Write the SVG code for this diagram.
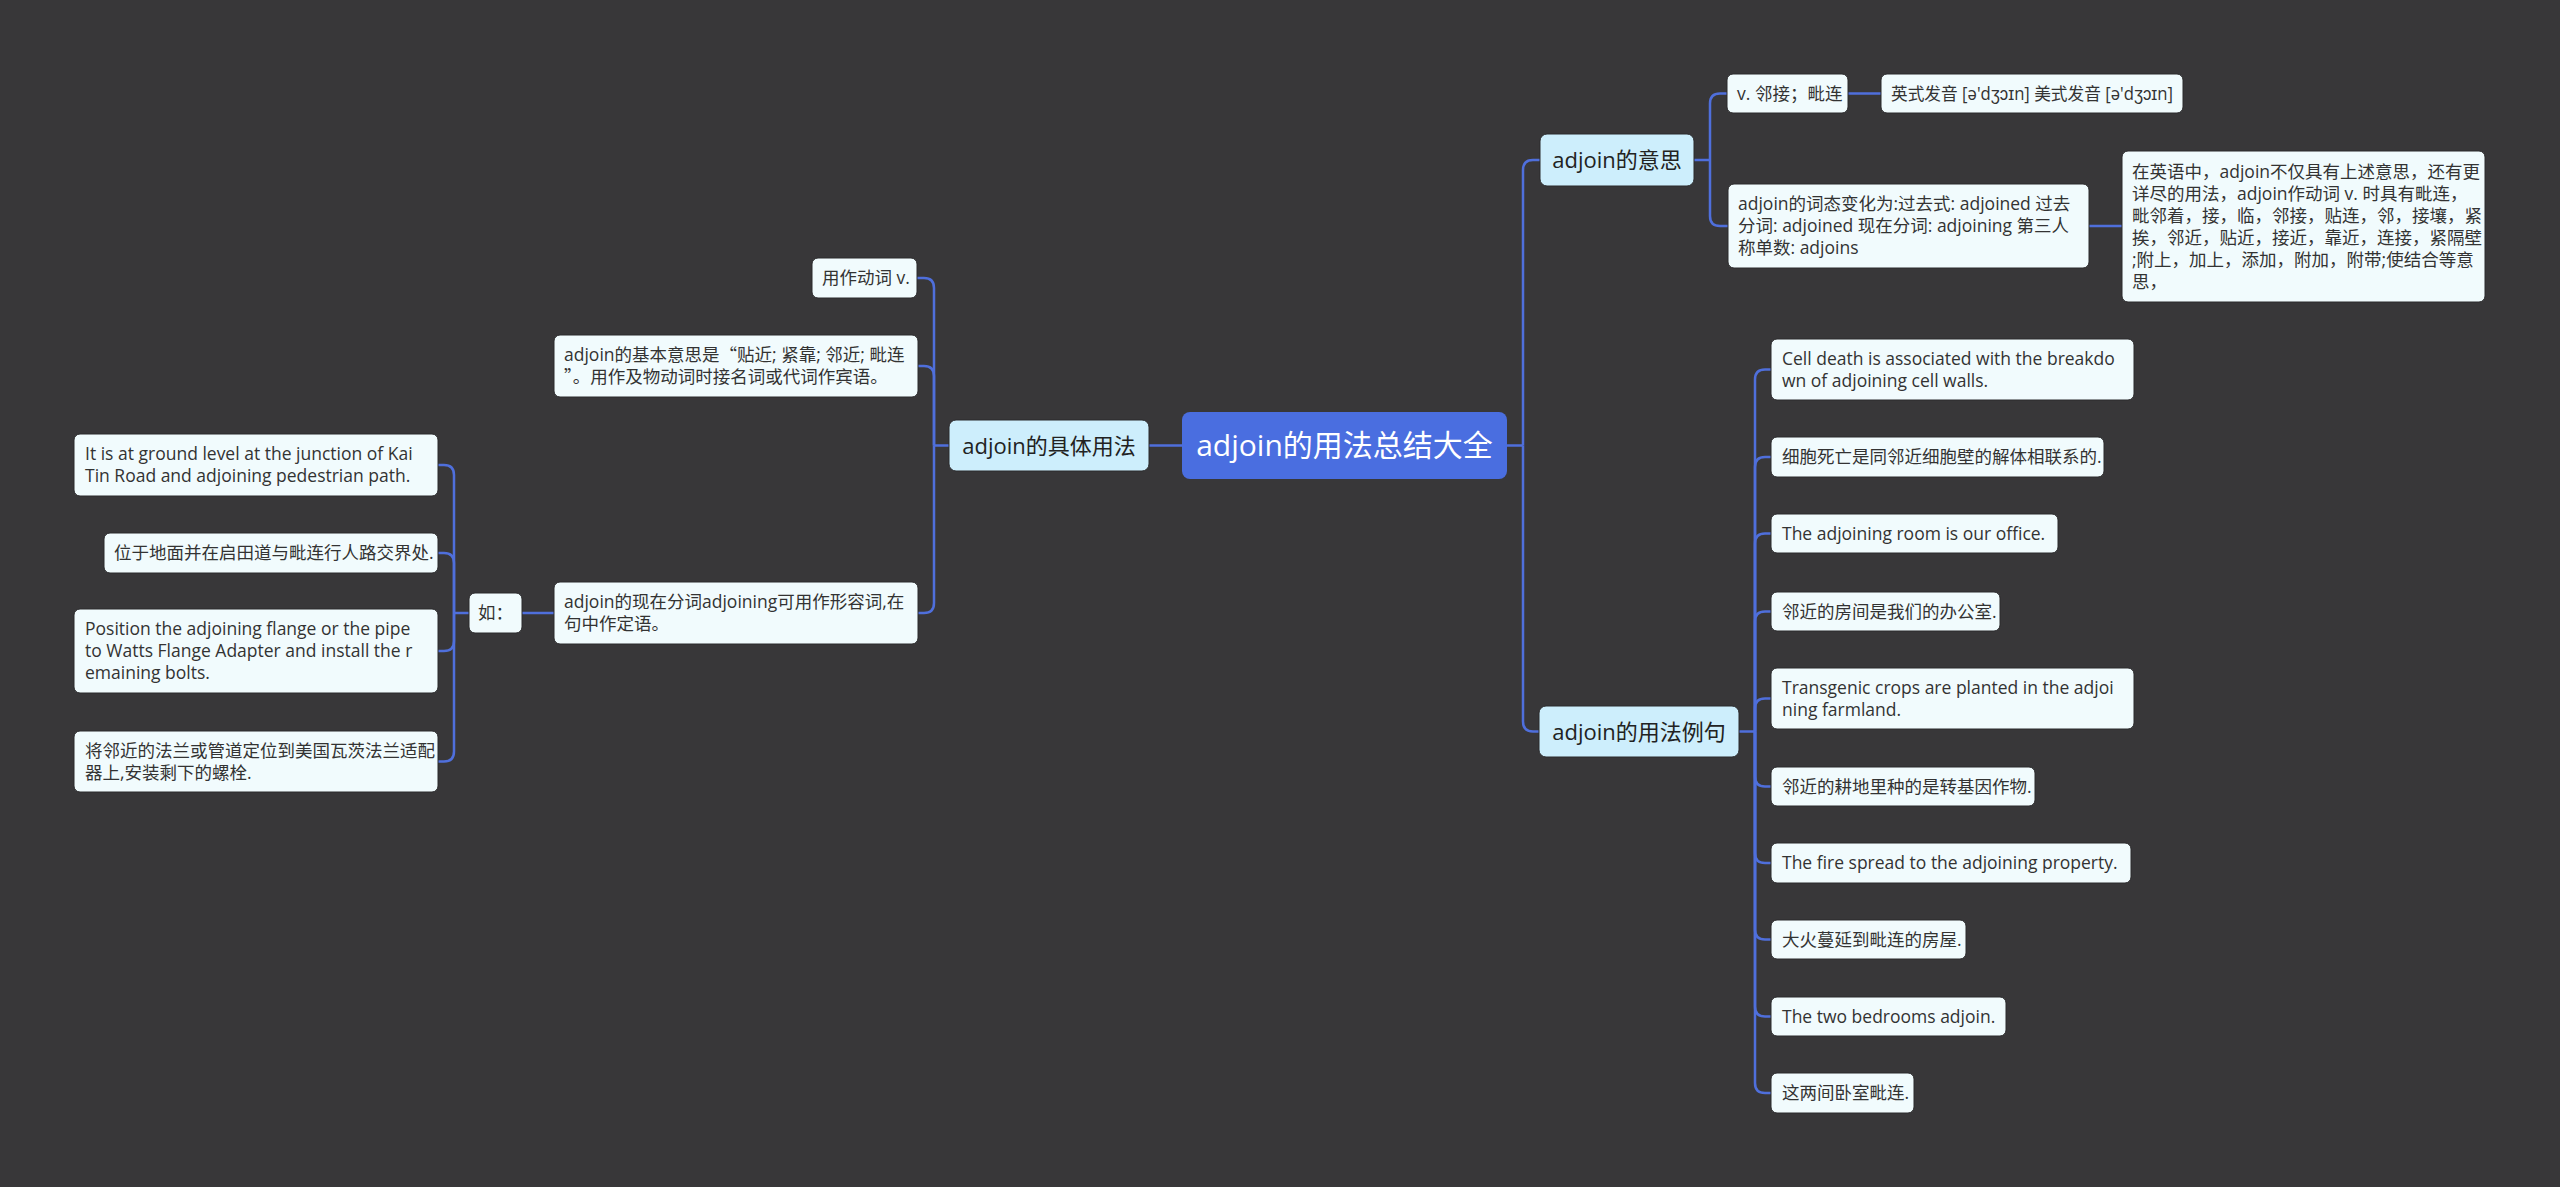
<svg xmlns="http://www.w3.org/2000/svg" width="2560" height="1187" viewBox="0 0 2560 1187">
<style>
text{font-family:"Open Sans","Noto Sans CJK SC",sans-serif;}
.cjk{font-family:"Noto Sans CJK SC",sans-serif;}
.leaf rect{fill:#f1fbfd;stroke:#2b2a2c;stroke-width:1;}
.leaf text{fill:#333333;font-size:17.5px;}
.l1 rect{fill:#cdeefc;stroke:#2b2a2c;stroke-width:1;}
.l1 text{fill:#222222;font-size:22px;text-anchor:middle;}
.root rect{fill:#4a6ee0;}
.root text{fill:#ffffff;font-size:30px;text-anchor:middle;}
#connectors path{fill:none;stroke:#4f6fdc;stroke-width:2.5;}
</style>
<rect x="0" y="0" width="2560" height="1187" fill="#383739"/>
<g id="connectors">
<path d="M1507,445.5 H1523"/>
<path d="M1523,445.5 V170 Q1523,160 1533,160 H1540"/>
<path d="M1523,445.5 V721.5 Q1523,731.5 1533,731.5 H1539"/>
<path d="M1182,445.5 H1149"/>
<path d="M949,445.5 H934"/>
<path d="M934,445.5 V288 Q934,278 924,278 H917"/>
<path d="M934,445.5 V376 Q934,366 924,366 H917"/>
<path d="M934,445.5 V603 Q934,613 924,613 H917"/>
<path d="M554,613 H522"/>
<path d="M469,613 H454"/>
<path d="M454,613 V475 Q454,465 444,465 H438"/>
<path d="M454,613 V563 Q454,553 444,553 H438"/>
<path d="M454,613 V641 Q454,651 444,651 H438"/>
<path d="M454,613 V751.5 Q454,761.5 444,761.5 H438"/>
<path d="M1694,160 H1710"/>
<path d="M1710,160 V103.5 Q1710,93.5 1720,93.5 H1727"/>
<path d="M1710,160 V216 Q1710,226 1720,226 H1728"/>
<path d="M1848,93.5 H1881"/>
<path d="M2089,226 H2122"/>
<path d="M1739,731.5 H1755"/>
<path d="M1755,731.5 V379.5 Q1755,369.5 1765,369.5 H1771"/>
<path d="M1755,731.5 V467 Q1755,457 1765,457 H1771"/>
<path d="M1755,731.5 V543.5 Q1755,533.5 1765,533.5 H1771"/>
<path d="M1755,731.5 V621.5 Q1755,611.5 1765,611.5 H1771"/>
<path d="M1755,731.5 V708.5 Q1755,698.5 1765,698.5 H1771"/>
<path d="M1755,731.5 V776.5 Q1755,786.5 1765,786.5 H1771"/>
<path d="M1755,731.5 V853 Q1755,863 1765,863 H1771"/>
<path d="M1755,731.5 V929.5 Q1755,939.5 1765,939.5 H1771"/>
<path d="M1755,731.5 V1006.5 Q1755,1016.5 1765,1016.5 H1771"/>
<path d="M1755,731.5 V1083 Q1755,1093 1765,1093 H1771"/>
</g>
<g id="root" class="root">
<rect x="1182" y="412" width="325" height="67" rx="8"/>
<text x="1344.5" y="456">adjoin的用法总结大全</text>
</g>
<g id="n_usage" class="l1">
<rect x="949" y="420" width="200" height="51" rx="7"/>
<text x="1049" y="453.5">adjoin的具体用法</text>
</g>
<g id="n_meaning" class="l1">
<rect x="1540" y="134" width="154" height="52" rx="7"/>
<text x="1617" y="168">adjoin的意思</text>
</g>
<g id="n_examples" class="l1">
<rect x="1539" y="706" width="200" height="51" rx="7"/>
<text x="1639" y="739.5">adjoin的用法例句</text>
</g>
<g id="n_verb" class="leaf">
<rect x="812" y="258" width="105" height="40" rx="6"/>
<text x="822" y="284">用作动词 v.</text>
</g>
<g id="n_basic" class="leaf">
<rect x="554" y="335" width="364" height="62" rx="6"/>
<text x="564" y="361">adjoin的基本意思是<tspan class="cjk">“</tspan>贴近; 紧靠; 邻近; 毗连</text>
<text x="564" y="383"><tspan class="cjk">”</tspan>。用作及物动词时接名词或代词作宾语。</text>
</g>
<g id="n_participle" class="leaf">
<rect x="554" y="582" width="364" height="62" rx="6"/>
<text x="564" y="608">adjoin的现在分词adjoining可用作形容词,在</text>
<text x="564" y="630">句中作定语。</text>
</g>
<g id="n_ru" class="leaf">
<rect x="469" y="593" width="53" height="40" rx="6"/>
<text x="478" y="619" class="cjk">如：</text>
</g>
<g id="n_ex1" class="leaf">
<rect x="74" y="434" width="364" height="62" rx="6"/>
<text x="85" y="460">It is at ground level at the junction of Kai</text>
<text x="85" y="482">Tin Road and adjoining pedestrian path.</text>
</g>
<g id="n_ex2" class="leaf">
<rect x="104" y="533" width="334" height="40" rx="6"/>
<text x="114" y="559">位于地面并在启田道与毗连行人路交界处.</text>
</g>
<g id="n_ex3" class="leaf">
<rect x="74" y="609" width="364" height="84" rx="6"/>
<text x="85" y="635">Position the adjoining flange or the pipe</text>
<text x="85" y="657">to Watts Flange Adapter and install the r</text>
<text x="85" y="679">emaining bolts.</text>
</g>
<g id="n_ex4" class="leaf">
<rect x="74" y="731" width="364" height="61" rx="6"/>
<text x="85" y="756.5">将邻近的法兰或管道定位到美国瓦茨法兰适配</text>
<text x="85" y="778.5">器上,安装剩下的螺栓.</text>
</g>
<g id="n_v" class="leaf">
<rect x="1727" y="74" width="121" height="39" rx="6"/>
<text x="1737" y="99.5">v. 邻接；毗连</text>
</g>
<g id="n_pron" class="leaf">
<rect x="1881" y="74" width="302" height="39" rx="6"/>
<text x="1891" y="99.5" textLength="282" lengthAdjust="spacingAndGlyphs">英式发音 [ə'dʒɔɪn] 美式发音 [ə'dʒɔɪn]</text>
</g>
<g id="n_forms" class="leaf">
<rect x="1728" y="184" width="361" height="84" rx="6"/>
<text x="1738" y="210">adjoin的词态变化为:过去式: adjoined 过去</text>
<text x="1738" y="232">分词: adjoined 现在分词: adjoining 第三人</text>
<text x="1738" y="254">称单数: adjoins</text>
</g>
<g id="n_detail" class="leaf">
<rect x="2122" y="151" width="363" height="151" rx="6"/>
<text x="2132" y="177.5">在英语中，adjoin不仅具有上述意思，还有更</text>
<text x="2132" y="199.5">详尽的用法，adjoin作动词 v. 时具有毗连，</text>
<text x="2132" y="221.5">毗邻着，接，临，邻接，贴连，邻，接壤，紧</text>
<text x="2132" y="243.5">挨，邻近，贴近，接近，靠近，连接，紧隔壁</text>
<text x="2132" y="265.5">;附上，加上，添加，附加，附带;使结合等意</text>
<text x="2132" y="287.5">思，</text>
</g>
<g id="n_s1" class="leaf">
<rect x="1771" y="339" width="363" height="61" rx="6"/>
<text x="1782" y="364.5">Cell death is associated with the breakdo</text>
<text x="1782" y="386.5">wn of adjoining cell walls.</text>
</g>
<g id="n_s2" class="leaf">
<rect x="1771" y="437" width="333" height="40" rx="6"/>
<text x="1782" y="463">细胞死亡是同邻近细胞壁的解体相联系的.</text>
</g>
<g id="n_s3" class="leaf">
<rect x="1771" y="514" width="287" height="39" rx="6"/>
<text x="1782" y="539.5">The adjoining room is our office.</text>
</g>
<g id="n_s4" class="leaf">
<rect x="1771" y="592" width="229" height="39" rx="6"/>
<text x="1782" y="617.5">邻近的房间是我们的办公室.</text>
</g>
<g id="n_s5" class="leaf">
<rect x="1771" y="668" width="363" height="61" rx="6"/>
<text x="1782" y="693.5">Transgenic crops are planted in the adjoi</text>
<text x="1782" y="715.5">ning farmland.</text>
</g>
<g id="n_s6" class="leaf">
<rect x="1771" y="767" width="264" height="39" rx="6"/>
<text x="1782" y="792.5">邻近的耕地里种的是转基因作物.</text>
</g>
<g id="n_s7" class="leaf">
<rect x="1771" y="843" width="360" height="40" rx="6"/>
<text x="1782" y="869">The fire spread to the adjoining property.</text>
</g>
<g id="n_s8" class="leaf">
<rect x="1771" y="920" width="195" height="39" rx="6"/>
<text x="1782" y="945.5">大火蔓延到毗连的房屋.</text>
</g>
<g id="n_s9" class="leaf">
<rect x="1771" y="997" width="235" height="39" rx="6"/>
<text x="1782" y="1022.5">The two bedrooms adjoin.</text>
</g>
<g id="n_s10" class="leaf">
<rect x="1771" y="1073" width="143" height="40" rx="6"/>
<text x="1782" y="1099">这两间卧室毗连.</text>
</g>
</svg>
